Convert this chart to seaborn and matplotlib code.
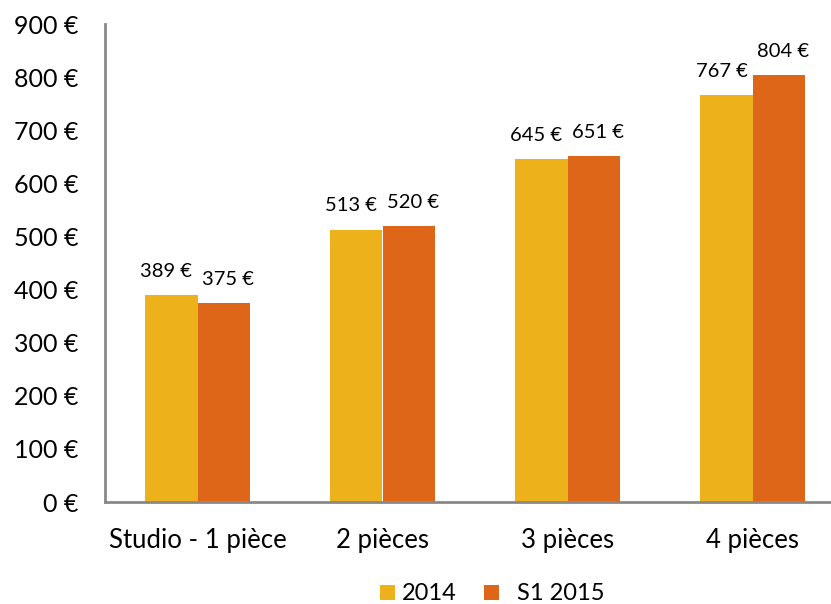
import matplotlib
matplotlib.use("Agg")
import matplotlib.pyplot as plt
from matplotlib.patches import Rectangle
import pandas as pd
import seaborn as sns

categories = ["Studio - 1 pièce", "2 pièces", "3 pièces", "4 pièces"]
series_names = ["2014", "S1 2015"]
values_2014 = [389, 513, 645, 767]
values_s1_2015 = [375, 520, 651, 804]
y_ticks = [0, 100, 200, 300, 400, 500, 600, 700, 800, 900]
y_tick_labels = [f"{v} €" for v in y_ticks]

colors = {"2014": "#EDB11B", "S1 2015": "#DE6619"}

df = pd.DataFrame({
    "categorie": categories * 2,
    "periode": [series_names[0]] * 4 + [series_names[1]] * 4,
    "loyer": values_2014 + values_s1_2015,
})

sns.set_style("white")
plt.rcParams["font.family"] = ["Lato", "DejaVu Sans"]

W, H = 831, 604
fig = plt.figure(figsize=(W / 100, H / 100), dpi=100)
ax = fig.add_axes([105 / W, 1 - 502 / H, 740 / W, 478 / H])

sns.barplot(data=df, x="categorie", y="loyer", hue="periode",
            order=categories, hue_order=series_names,
            palette=colors, width=0.566, saturation=1,
            edgecolor="none", linewidth=0, ax=ax, legend=False)

ax.set_xlim(-0.5, 3.5)
ax.set_ylim(0, 900)
ax.set_yticks(y_ticks)
ax.set_yticklabels(y_tick_labels)
ax.set_xlabel("")
ax.set_ylabel("")
ax.tick_params(axis="y", length=0, pad=19, labelsize=18, labelcolor="#000000")
ax.tick_params(axis="x", length=0, pad=19, labelsize=18.5, labelcolor="#000000")

for side in ["top", "right"]:
    ax.spines[side].set_visible(False)
for side in ["left", "bottom"]:
    ax.spines[side].set_color("#898989")
    ax.spines[side].set_linewidth(2.0)
ax.spines["bottom"].set_clip_on(False)

# value labels above each bar, nudged apart so neighbours don't touch
for container, vals, dx in zip(ax.containers, [values_2014, values_s1_2015], [-3.5, 3.0]):
    for bar, v in zip(container, vals):
        x = bar.get_x() + bar.get_width() / 2
        ax.annotate(f"{v} €", (x, v), xytext=(dx, 17), textcoords="offset points",
                    ha="center", va="center", fontsize=14.5, color="#000000")

# legend drawn at the bottom centre of the figure
legend_items = [(380, 402), (484, 517)]
for (mx, tx), name in zip(legend_items, series_names):
    fig.patches.append(Rectangle((mx / W, 1 - 600 / H), 15 / W, 15 / H,
                                 transform=fig.transFigure, facecolor=colors[name],
                                 edgecolor="none"))
    fig.text(tx / W, 1 - 593 / H, name, ha="left", va="center",
             fontsize=17, color="#000000")

fig.savefig("out.png", dpi=100)
